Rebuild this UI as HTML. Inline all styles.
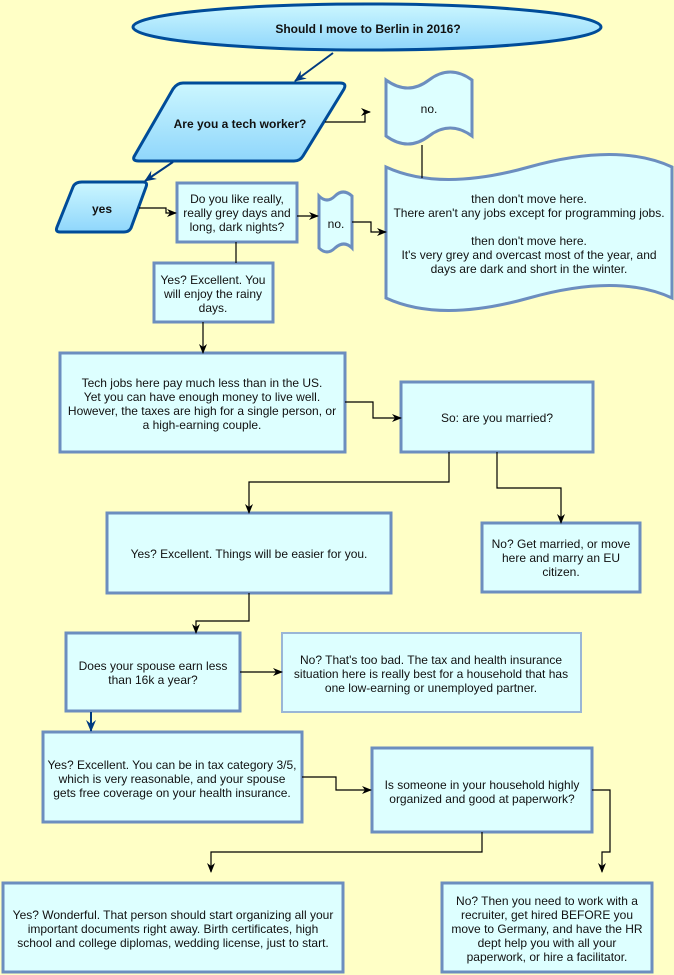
<!DOCTYPE html>
<html><head><meta charset="utf-8"><style>
html,body{margin:0;padding:0;background:#ffffc6;}
svg{display:block;font-family:"Liberation Sans",Arial,sans-serif;font-size:12px;}
</style></head><body>
<svg width="674" height="975" viewBox="0 0 674 975" xmlns="http://www.w3.org/2000/svg">
<defs>
<linearGradient id="g" x1="0" y1="0" x2="0" y2="1"><stop offset="0" stop-color="#ccf7ff"/><stop offset="1" stop-color="#8fd6fb"/></linearGradient>
<marker id="a" markerWidth="10" markerHeight="10" refX="9" refY="5" orient="auto" markerUnits="userSpaceOnUse"><path d="M0,1 L10,5 L0,9 L3,5 Z" fill="#000"/></marker>
<marker id="b" markerWidth="12" markerHeight="12" refX="11" refY="6" orient="auto" markerUnits="userSpaceOnUse"><path d="M0,1 L12,6 L0,11 L4,6 Z" fill="#003a80"/></marker>
</defs>
<rect width="674" height="975" fill="#ffffc6"/>
<g fill="#ddffff" stroke="#6c8ebf" stroke-width="3">
<ellipse cx="367" cy="27" rx="234" ry="23" fill="url(#g)" stroke="#004c99"/>
<path d="M183,83 L340,83 Q347,83 344,89 L303,156 Q300,161 294,161 L139,161 Q131,161 135,155 L173,89 Q177,83 183,83 Z" fill="url(#g)" stroke="#004c99"/>
<path d="M82,182 L143,182 Q148,182 146,187 L131,228 Q129,232 124,232 L60,232 Q55,232 57,227 L73,187 Q75,182 82,182 Z" fill="url(#g)" stroke="#004c99"/>
<path d="M386,80 Q408,96 429,80 T472,80 L472,136 Q450,120 429,136 Q408,152 386,136 Z"/>
<path d="M319,196 Q327,204 335,196 T352,196 L352,248 Q344,240 335,248 Q327,256 319,248 Z"/>
<path d="M386,167 Q440,192 529,167 T672,167 L672,298 Q618,273 529,298 Q440,323 386,298 Z"/>
<rect x="177" y="183" width="120" height="59"/>
<rect x="154" y="263" width="119" height="59"/>
<rect x="60" y="353" width="285" height="99"/>
<rect x="401" y="382" width="192" height="70"/>
<rect x="107" y="513" width="284" height="80"/>
<rect x="482" y="523" width="158" height="69"/>
<rect x="66" y="633" width="174" height="78"/>
<rect x="282" y="633" width="299" height="79" stroke="#9ab6d6" stroke-width="2"/>
<rect x="43" y="732" width="259" height="90"/>
<rect x="372" y="748" width="220" height="84"/>
<rect x="3" y="883" width="340" height="89"/>
<rect x="442" y="883" width="210" height="89"/>
</g>
<g fill="none" stroke="#000" stroke-width="1.2">
<path d="M325,122 H365 V112 H370" marker-end="url(#a)"/>
<path d="M139,208 H166 V213 H176" marker-end="url(#a)"/>
<path d="M297,216 H318" marker-end="url(#a)"/>
<path d="M352,222 H371 V232 H386" marker-end="url(#a)"/>
<path d="M422,145 V178"/>
<path d="M236,242 V263"/>
<path d="M203,322 V353" marker-end="url(#a)"/>
<path d="M345,402 H373 V418 H401" marker-end="url(#a)"/>
<path d="M449,452 V482 H249 V513" marker-end="url(#a)"/>
<path d="M497,452 V488 H561 V523" marker-end="url(#a)"/>
<path d="M249,593 V621 H196 V633" marker-end="url(#a)"/>
<path d="M240,672 H282" marker-end="url(#a)"/>
<path d="M302,777 H336 V790 H371" marker-end="url(#a)"/>
<path d="M482,832 V852 H211 V872" marker-end="url(#a)"/>
<path d="M592,790 H610 V852 H602 V872" marker-end="url(#a)"/>
</g>
<g fill="none" stroke="#003a80" stroke-width="2">
<path d="M333,53 L295,81" marker-end="url(#b)"/>
<path d="M173,162 L145,181" marker-end="url(#b)"/>
<path d="M91,712 L91,731" marker-end="url(#b)"/>
</g>
<g fill="#111" text-anchor="middle">
<text x="368" y="33" font-weight="bold">Should I move to Berlin in 2016?</text>
<text x="240" y="128" font-weight="bold">Are you a tech worker?</text>
<text x="102" y="213" font-weight="bold">yes</text>
<text x="429" y="113">no.</text>
<text x="336" y="228">no.</text>
<text x="237" y="203">Do you like really,</text>
<text x="237" y="217">really grey days and</text>
<text x="237" y="231">long, dark nights?</text>
<text x="529" y="203">then don't move here.</text>
<text x="529" y="217">There aren't any jobs except for programming jobs.</text>
<text x="529" y="245">then don't move here.</text>
<text x="529" y="259">It's very grey and overcast most of the year, and</text>
<text x="529" y="273">days are dark and short in the winter.</text>
<text x="213" y="284">Yes? Excellent. You</text>
<text x="213" y="298">will enjoy the rainy</text>
<text x="213" y="312">days.</text>
<text x="202" y="387">Tech jobs here pay much less than in the US.</text>
<text x="202" y="401">Yet you can have enough money to live well.</text>
<text x="202" y="415">However, the taxes are high for a single person, or</text>
<text x="202" y="429">a high-earning couple.</text>
<text x="497" y="422">So: are you married?</text>
<text x="249" y="558">Yes? Excellent. Things will be easier for you.</text>
<text x="561" y="548">No? Get married, or move</text>
<text x="561" y="562">here and marry an EU</text>
<text x="561" y="576">citizen.</text>
<text x="153" y="670">Does your spouse earn less</text>
<text x="153" y="684">than 16k a year?</text>
<text x="431" y="664">No? That's too bad. The tax and health insurance</text>
<text x="431" y="678">situation here is really best for a household that has</text>
<text x="431" y="692">one low-earning or unemployed partner.</text>
<text x="172" y="769">Yes? Excellent. You can be in tax category 3/5,</text>
<text x="172" y="783">which is very reasonable, and your spouse</text>
<text x="172" y="797">gets free coverage on your health insurance.</text>
<text x="482" y="789">Is someone in your household highly</text>
<text x="482" y="803">organized and good at paperwork?</text>
<text x="173" y="919">Yes? Wonderful. That person should start organizing all your</text>
<text x="173" y="933">important documents right away. Birth certificates, high</text>
<text x="173" y="947">school and college diplomas, wedding license, just to start.</text>
<text x="547" y="905">No? Then you need to work with a</text>
<text x="547" y="919">recruiter, get hired BEFORE you</text>
<text x="547" y="933">move to Germany, and have the HR</text>
<text x="547" y="947">dept help you with all your</text>
<text x="547" y="961">paperwork, or hire a facilitator.</text>
</g>
</svg>
</body></html>
